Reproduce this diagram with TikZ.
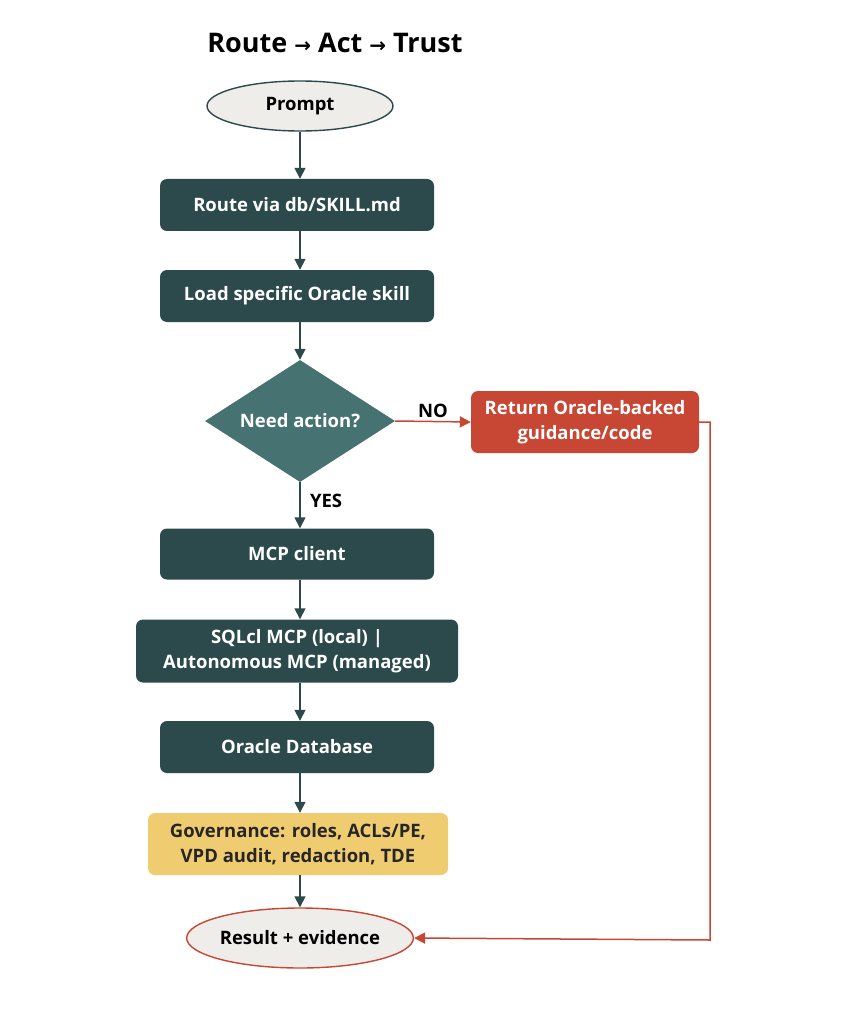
\documentclass[tikz,border=0pt]{standalone}
\usepackage{fontspec}
\setmainfont{Open Sans}
\newfontfamily\arr{DejaVu Sans}
\usetikzlibrary{shapes.geometric,arrows.meta}
\definecolor{dk}{HTML}{2C4A4B}
\definecolor{dm}{HTML}{467371}
\definecolor{rd}{HTML}{C74634}
\definecolor{lg}{HTML}{EFEDE9}
\definecolor{yl}{HTML}{F0CC71}
\begin{document}
\begin{tikzpicture}[x=1pt,y=-1pt,
 box/.style={rectangle,rounded corners=7pt,fill=dk,text=white,font=\bfseries\fontsize{18.5}{25}\selectfont,align=center,inner sep=0pt},
 ell/.style={ellipse,draw=dk,line width=1.4pt,fill=lg,font=\bfseries\fontsize{18.5}{22}\selectfont,inner sep=0pt},
 ln/.style={dk,line width=1.5pt,-{Triangle[length=11pt,width=11pt]}},
 lbl/.style={font=\bfseries\fontsize{18.5}{22}\selectfont}]
\useasboundingbox (0,0) rectangle (846,1024);
\node[font=\bfseries\fontsize{27}{32}\selectfont] (t) at (335,43) {Route {\arr\fontsize{20}{24}\selectfont→} Act {\arr\fontsize{20}{24}\selectfont→} Trust};
\node[ell,minimum width=186,minimum height=50] (p) at (300,106) {Prompt};
\node[box,minimum width=274,minimum height=52] (r) at (297,205) {Route via db/SKILL.md};
\node[box,minimum width=274,minimum height=52] (l) at (297,296) {Load specific Oracle skill};
\node[diamond,fill=dm,text=white,font=\bfseries\fontsize{18.5}{22}\selectfont,minimum width=190,minimum height=122,aspect=1.56,inner sep=0pt] (d) at (300,421) {Need action?};
\node[box,fill=rd,minimum width=228,minimum height=62] (ret) at (585,422) {Return Oracle-backed\\guidance/code};
\node[box,minimum width=274,minimum height=51] (m) at (297,554) {MCP client};
\node[box,minimum width=322,minimum height=63] (s) at (297,651) {SQLcl MCP (local) |\\Autonomous MCP (managed)};
\node[box,minimum width=274,minimum height=52] (o) at (297,747) {Oracle Database};
\node[box,fill=yl,text=black!85,minimum width=300,minimum height=62] (g) at (298,844) {Governance: roles, ACLs/PE,\\VPD audit, redaction, TDE};
\node[ell,draw=rd,minimum width=226,minimum height=60] (res) at (300,938) {Result + evidence};
\draw[ln] (p) -- (p|-r.north);
\draw[ln] (r.south-|p) -- (p|-l.north);
\draw[ln] (l.south-|p) -- (d.north);
\draw[ln] (d.south) -- (p|-m.north) node[lbl,black,pos=0.4,right=6pt] {YES};
\draw[ln] (m.south-|p) -- (p|-s.north);
\draw[ln] (s.south-|p) -- (p|-o.north);
\draw[ln] (o.south-|p) -- (p|-g.north);
\draw[ln] (g.south-|p) -- (res.north);
\draw[rd,line width=1.5pt,-{Triangle[length=11pt,width=11pt]}] (d.east) -- (ret.west) node[lbl,midway,above=0pt,black] {NO};
\coordinate (c1) at (710,422);
\coordinate (c2) at (710,940);
\draw[rd,line width=1.5pt,-{Triangle[length=11pt,width=11pt]}] (ret.east) -- (c1) -- (c2) -- (res.east);
\end{tikzpicture}
\end{document}
